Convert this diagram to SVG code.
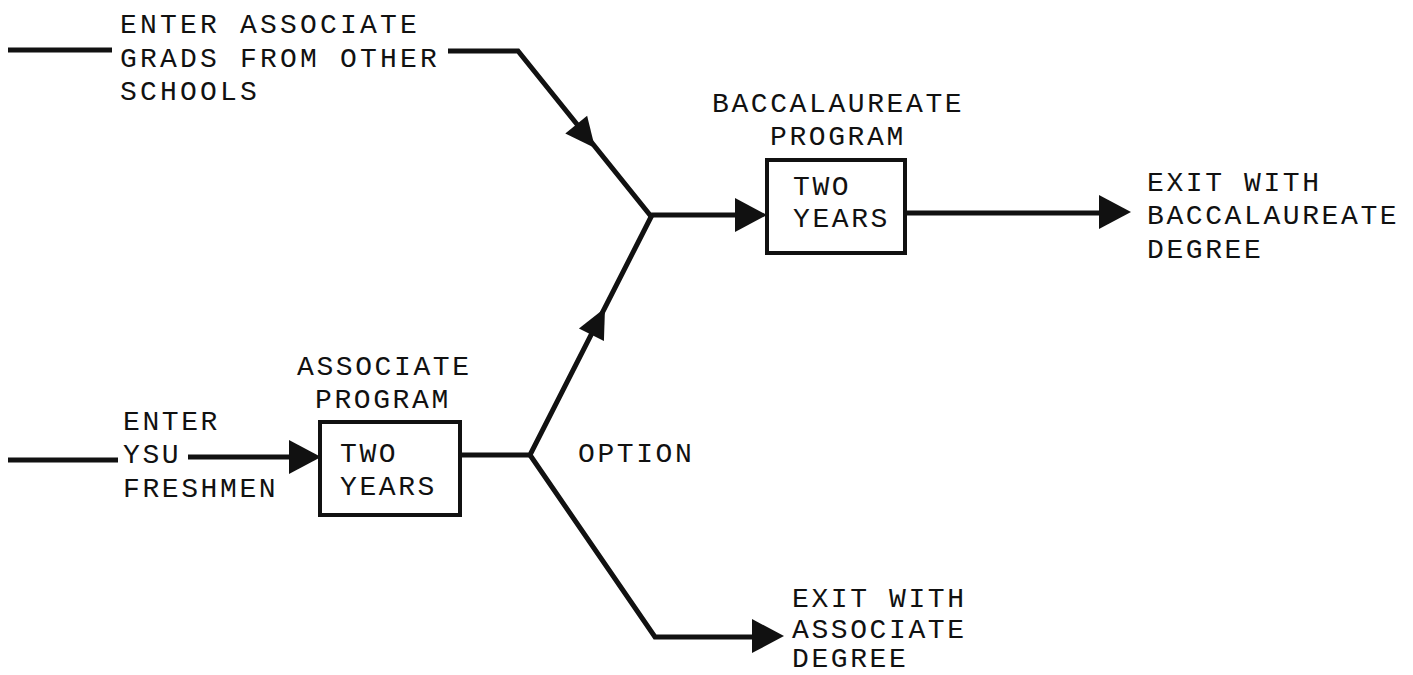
<svg xmlns="http://www.w3.org/2000/svg" xmlns:xlink="http://www.w3.org/1999/xlink" width="1413" height="675" viewBox="0 0 1413 675">
<style>
  .t { font-family: "Liberation Mono", "DejaVu Sans Mono", monospace; font-size: 28px; letter-spacing: 2.6px; fill: #111; }
  .tw { letter-spacing: 3.2px; }
  .ln { fill: none; stroke: #111; stroke-width: 5; stroke-linejoin: miter; stroke-linecap: butt; }
  .box { fill: #fff; stroke: #111; stroke-width: 4; }
  .ah { fill: #111; }
</style>
<defs>
  <path id="ah" d="M0,0 L-32,-17 L-32,17 Z"/>
  <path id="ahs" d="M0,0 L-30,-14 L-30,14 Z"/>
</defs>
<rect width="1413" height="675" fill="#fff"/>

<g id="connectors">
  <path class="ln" d="M8,50 H112"/>
  <path class="ln" d="M448,51 H518 L650,215 H740"/>
  <path class="ln" d="M905,213 H1102"/>
  <path class="ln" d="M8,460 H118"/>
  <path class="ln" d="M188,457 H292"/>
  <path class="ln" d="M460,455 H530 L652,215"/>
  <path class="ln" d="M530,455 L655,637 H756"/>
  <use class="ah" href="#ahs" transform="translate(595,148) rotate(51.2)"/>
  <use class="ah" href="#ah" transform="translate(767,215)"/>
  <use class="ah" href="#ah" transform="translate(1131,212)"/>
  <use class="ah" href="#ah" transform="translate(321,457)"/>
  <use class="ah" href="#ahs" transform="translate(605,308) rotate(-63.1)"/>
  <use class="ah" href="#ah" transform="translate(784,636)"/>
</g>

<g id="enter-grads">
  <text class="t tw" x="120" y="33">ENTER ASSOCIATE</text>
  <text class="t tw" x="120" y="67">GRADS FROM OTHER</text>
  <text class="t tw" x="120" y="100">SCHOOLS</text>
</g>

<g id="baccalaureate-program">
  <text class="t" x="712" y="112">BACCALAUREATE</text>
  <text class="t" x="770" y="145">PROGRAM</text>
  <rect class="box" x="767" y="160" width="138" height="93"/>
  <text class="t" x="793" y="195">TWO</text>
  <text class="t" x="793" y="227">YEARS</text>
</g>

<g id="exit-baccalaureate">
  <text class="t" x="1147" y="191">EXIT WITH</text>
  <text class="t" x="1147" y="224">BACCALAUREATE</text>
  <text class="t" x="1147" y="258">DEGREE</text>
</g>

<g id="enter-ysu">
  <text class="t" x="123" y="430">ENTER</text>
  <text class="t" x="123" y="463">YSU</text>
  <text class="t" x="123" y="497">FRESHMEN</text>
</g>

<g id="associate-program">
  <text class="t" x="297" y="375">ASSOCIATE</text>
  <text class="t" x="315" y="408">PROGRAM</text>
  <rect class="box" x="320" y="422" width="140" height="93"/>
  <text class="t" x="340" y="462">TWO</text>
  <text class="t" x="340" y="495">YEARS</text>
</g>

<g id="option">
  <text class="t" x="578" y="462">OPTION</text>
</g>

<g id="exit-associate">
  <text class="t" x="792" y="607">EXIT WITH</text>
  <text class="t" x="792" y="638">ASSOCIATE</text>
  <text class="t" x="792" y="667">DEGREE</text>
</g>
</svg>
